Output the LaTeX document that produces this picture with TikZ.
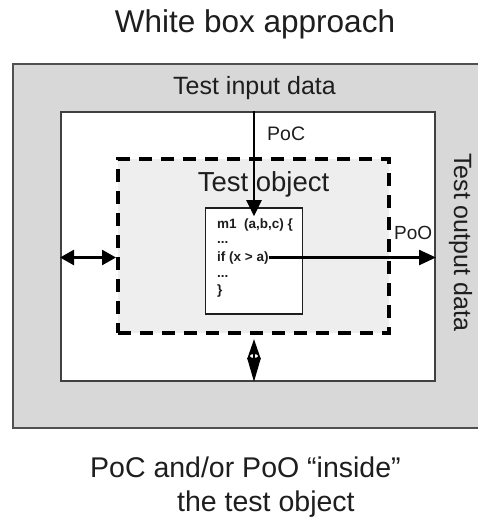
\documentclass[tikz,border=0pt]{standalone}
\usepackage{fontspec}
\setmainfont{Liberation Sans}
\usetikzlibrary{arrows.meta}
\definecolor{envfill}{HTML}{D8D8D8}
\definecolor{envline}{HTML}{505050}
\definecolor{objfill}{HTML}{EEEEEE}
\definecolor{ink}{HTML}{1E1E1E}
\tikzset{
  fsz/.style={font=\fontsize{#1}{#1}\selectfont},
  envbox/.style={draw=envline, line width=2pt, fill=envfill, inner sep=0pt},
  sysbox/.style={draw=ink!85, line width=2pt, fill=white, inner sep=0pt},
  objbox/.style={draw=black, line width=4pt, dash pattern=on 13pt off 9pt, fill=objfill, inner sep=0pt},
  codebox/.style={draw=ink, line width=1.6pt, fill=white, inner sep=0pt},
  codeline/.style={anchor=base west, inner sep=0pt, text=ink, font=\fontsize{13.5}{13.5}\selectfont\bfseries},
  label/.style={text=ink, inner sep=0pt},
  flow/.style={draw=black, line width=2.5pt},
}
\begin{document}
\begin{tikzpicture}[x=1pt, y=-1pt]
\clip (0,0) rectangle (478,519);
\fill[white] (0,0) rectangle (478,519);

% nested boxes: environment, system, test object, code fragment
\node[envbox, minimum width=480pt, minimum height=364pt] (env) at (253,246) {};
\node[sysbox, minimum width=374pt, minimum height=269pt] (sys) at (248,246.5) {};
\node[objbox, minimum width=271pt, minimum height=174pt] (obj) at (253.5,246) {};
\node[codebox, minimum width=97pt, minimum height=106pt] (code) at (254,261) {};

% headings
\node[label, fsz=31.5, anchor=base] (title) at (255,33) {White box approach};
\node[label, fsz=25, anchor=base] (tin) at (254.5,94) {Test input data};
\node[label, fsz=27.5, anchor=base] (tobj) at (263.5,191.5) {Test object};
\node[label, fsz=25, rotate=-90, anchor=base west] (tout) at (454,153) {Test output data};
\node[label, fsz=19.5, anchor=base west] (poc) at (267,140) {PoC};
\node[label, fsz=19, anchor=base west] (poo) at (394,239) {PoO};

% code fragment
\node[codeline] (c1) at (217,228) {m1\ \ (a,b,c) \{};
\node[codeline] (c2) at (217,243) {...};
\node[codeline] (c3) at (217,261) {if (x > a)};
\node[codeline] (c4) at (217,277) {...};
\node[codeline] (c5) at (217,294) {\}};

% point of control: input enters the code
\draw[flow, -{Triangle[length=16pt, width=15pt]}, shorten >=-9pt] (code.north |- sys.north) -- (code.north);

% point of observation: output leaves at the branch
\draw[flow, -{Triangle[length=17pt, width=15pt]}] (c3.east) -- (c3.east -| sys.east);

% interface between system and test object
\draw[flow, {Triangle[length=14pt, width=15pt]}-{Triangle[length=14pt, width=15pt]}] (c3.east -| sys.west) -- (c3.east -| obj.west);

% lower interface: two heads meeting base to base
\coordinate (lowtop) at (code.south |- obj.south);
\coordinate (lowbot) at (code.south |- sys.south);
\coordinate (lowmid) at (code.south |- 0,356);
\draw[flow, {Triangle[length=20pt, width=13pt]}-{Triangle[length=24pt, width=13pt]}, shorten <=4pt] (lowtop) -- (lowbot);
\fill[white] (lowmid) ellipse (4pt and 2pt);
\draw[line width=2pt] ([yshift=-4pt]lowmid) -- ([yshift=4pt]lowmid);

% caption
\node[label, fsz=28.5, anchor=base west] (cap1) at (90,477) {PoC and/or PoO “inside”};
\node[label, fsz=28.5, anchor=base west] (cap2) at (177,511) {the test object};
\end{tikzpicture}
\end{document}
